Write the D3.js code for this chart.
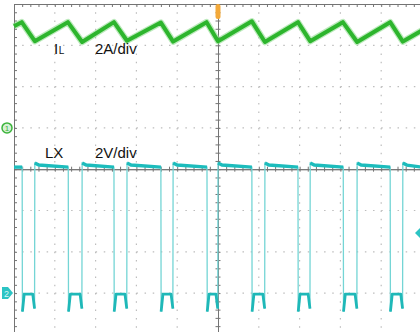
<!DOCTYPE html>
<html><head><meta charset="utf-8">
<script src="https://cdn.jsdelivr.net/npm/d3@7"></script>
<style>html,body{margin:0;padding:0;background:#fff;overflow:hidden}</style>
</head><body><svg id="c" width="420" height="332"></svg>
<script>
// Time in screen divisions (10 div across), IL in amps (2 A/div), LX in volts (2 V/div)
const ilTime = [0, 0.19, 0.51, 1.32, 1.67, 2.45, 2.77, 3.60, 3.90, 4.72, 5.00, 5.83, 6.15, 6.96, 7.26, 8.06, 8.41, 9.22, 9.53, 10];
const ilAmps = [4.92, 5.12, 4.20, 5.12, 4.16, 5.12, 4.22, 5.10, 4.18, 5.12, 4.20, 5.16, 4.16, 5.12, 4.20, 5.12, 4.16, 5.12, 4.18, 4.72];
const lxFallTime = [0.20, 1.33, 2.45, 3.60, 4.73, 5.83, 6.96, 8.07, 9.22];
const lxRiseTime = [0.51, 1.67, 2.77, 3.90, 5.00, 6.15, 7.26, 8.41, 9.53];
const lxHighStartV = 6.3, lxHighMidV = 6.2, lxHighEndV = 6.1, lxLowV = -0.05, lxDipFallV = -0.9, lxDipRiseV = -0.75;
const labels = ["I", "L", "2A/div", "LX", "2V/div"];
const ilAmpsPerDiv = 2, ilOffsetDiv = 1, lxVoltsPerDiv = 2, lxOffsetDiv = -3;

const svg = d3.select("#c");
const x = d3.scaleLinear().domain([0, 10]).range([14, 422]);
const y = d3.scaleLinear().domain([-4, 4]).range([334.4, 4]);
const ilY = a => y(a / ilAmpsPerDiv + ilOffsetDiv);
const lxY = v => y(v / lxVoltsPerDiv + lxOffsetDiv);

// grid (dotted)
const g = svg.append("g");
const gx = [1,2,3,4,6,7,8,9], gy = [-3,-2,-1,1,2,3];
const minorX = x(0.2) - x(0), minorY = y(0) - y(0.2);
g.selectAll("line.vx").data(gx).join("line")
  .attr("x1", d => x(d)).attr("x2", d => x(d)).attr("y1", 4).attr("y2", 332)
  .attr("stroke", "#bdbdbd").attr("stroke-width", 1.2)
  .attr("stroke-dasharray", `1.5 ${minorY - 1.5}`);
g.selectAll("line.hy").data(gy).join("line")
  .attr("y1", d => y(d)).attr("y2", d => y(d)).attr("x1", 14).attr("x2", 420)
  .attr("stroke", "#bdbdbd").attr("stroke-width", 1.2)
  .attr("stroke-dasharray", `1.5 ${minorX - 1.5}`);

// borders & center axes with minor ticks
const fineX = d3.range(0, 10.001, 0.2), fineY = d3.range(-4, 4.001, 0.2);
const axCol = "#747474";
function styleAxis(sel){ sel.select(".domain").attr("stroke", axCol); sel.selectAll(".tick line").attr("stroke", axCol); sel.selectAll("text").remove(); }
svg.append("g").attr("transform", `translate(0,${y(4)})`)
  .call(d3.axisBottom(x).tickValues(fineX).tickSize(3).tickSizeOuter(0).tickFormat("")).call(styleAxis);
svg.append("g").attr("transform", `translate(${x(0)},0)`)
  .call(d3.axisRight(y).tickValues(fineY).tickSize(3).tickSizeOuter(0).tickFormat("")).call(styleAxis);
svg.append("g").attr("transform", `translate(0,${y(0)})`)
  .call(d3.axisBottom(x).tickValues(fineX).tickSize(2.5).tickSizeOuter(0).tickFormat("")).call(styleAxis);
svg.append("g").attr("transform", `translate(0,${y(0)})`)
  .call(d3.axisTop(x).tickValues(fineX).tickSize(2.5).tickSizeOuter(0).tickFormat("")).call(styleAxis);
svg.append("g").attr("transform", `translate(${x(5)},0)`)
  .call(d3.axisRight(y).tickValues(fineY).tickSize(2.5).tickSizeOuter(0).tickFormat("")).call(styleAxis);
svg.append("g").attr("transform", `translate(${x(5)},0)`)
  .call(d3.axisLeft(y).tickValues(fineY).tickSize(2.5).tickSizeOuter(0).tickFormat("")).call(styleAxis);

// IL trace
const ilData = ilTime.map((t, i) => [t, ilAmps[i]]);
const ilLine = d3.line().x(d => x(d[0])).y(d => ilY(d[1]));
svg.append("path").datum(ilData).attr("d", ilLine).attr("fill", "none")
  .attr("stroke", "#8fdc8f").attr("stroke-width", 6.5).attr("stroke-linejoin", "round").attr("opacity", 0.6);
svg.append("path").datum(ilData).attr("d", ilLine).attr("fill", "none")
  .attr("stroke", "#2db52d").attr("stroke-width", 4).attr("stroke-linejoin", "round");

// LX trace
const lxPts = [[0, lxHighEndV]];
const highSegs = [], lowSegs = [];
let curHigh = [[0, lxHighEndV]];
lxFallTime.forEach((f, i) => {
  const r = lxRiseTime[i];
  curHigh.push([f, lxHighEndV]); highSegs.push(curHigh);
  const low = [[f + 0.006, lxDipFallV], [f + 0.05, lxLowV], [r - 0.05, lxLowV], [r - 0.006, lxDipRiseV]];
  lowSegs.push(low);
  lxPts.push([f, lxHighEndV], ...low, [r, lxHighStartV], [r + 0.1, lxHighMidV]);
  curHigh = [[r, lxHighStartV], [r + 0.1, lxHighMidV]];
});
curHigh.push([10, lxHighEndV]); highSegs.push(curHigh);
lxPts.push([10, lxHighEndV]);
const lxLine = d3.line().x(d => x(d[0])).y(d => lxY(d[1]));
svg.append("path").datum(lxPts).attr("d", lxLine).attr("fill", "none")
  .attr("stroke", "#74d5d5").attr("stroke-width", 1.3);
svg.selectAll("path.hi").data(highSegs).join("path").attr("d", lxLine).attr("fill", "none")
  .attr("stroke", "#1cbcbc").attr("stroke-width", 3.4);
svg.selectAll("path.lo").data(lowSegs).join("path").attr("d", lxLine).attr("fill", "none")
  .attr("stroke", "#1fb8b8").attr("stroke-width", 2.8).attr("stroke-linejoin", "round");

// markers
const m1 = ilY(0), m2 = lxY(0);
svg.append("circle").attr("cx", 7).attr("cy", m1).attr("r", 5)
  .attr("fill", "#d6f0d6").attr("stroke", "#3cb43c").attr("stroke-width", 1.5);
svg.append("text").attr("x", 7).attr("y", m1 + 3.2).attr("font-size", 8).attr("font-family", "Liberation Sans, Arial")
  .attr("text-anchor", "middle").attr("fill", "#3cb43c").text("1");
svg.append("path").attr("d", `M2,${m2-6} L8,${m2-6} L13,${m2} L8,${m2+6} L2,${m2+6} Z`)
  .attr("fill", "#2cc4c4");
svg.append("text").attr("x", 6.5).attr("y", m2 + 3.5).attr("font-size", 9).attr("font-family", "Liberation Sans, Arial")
  .attr("text-anchor", "middle").attr("fill", "#d8f6f6").text("2");
svg.append("rect").attr("x", x(5) - 2.5).attr("y", 4).attr("width", 5).attr("height", 15).attr("rx", 2.5)
  .attr("fill", "#f3a93a");
svg.append("path").attr("d", `M420,228 L415,233 L420,238 Z`).attr("fill", "#2cc4c4");

// labels
const font = "Liberation Sans, Arial, sans-serif";
const t1 = svg.append("text").attr("x", 54).attr("y", 54).attr("font-family", font).attr("fill", "#111");
t1.append("tspan").attr("font-size", 15).text(labels[0]);
t1.append("tspan").attr("font-size", 10).attr("dx", 0.5).text(labels[1]);
svg.append("text").attr("x", 95).attr("y", 54).attr("font-family", font).attr("font-size", 15).attr("fill", "#111").text(labels[2]);
svg.append("text").attr("x", 45).attr("y", 158).attr("font-family", font).attr("font-size", 15).attr("fill", "#111").text(labels[3]);
svg.append("text").attr("x", 95).attr("y", 158).attr("font-family", font).attr("font-size", 15).attr("fill", "#111").text(labels[4]);
</script></body></html>
